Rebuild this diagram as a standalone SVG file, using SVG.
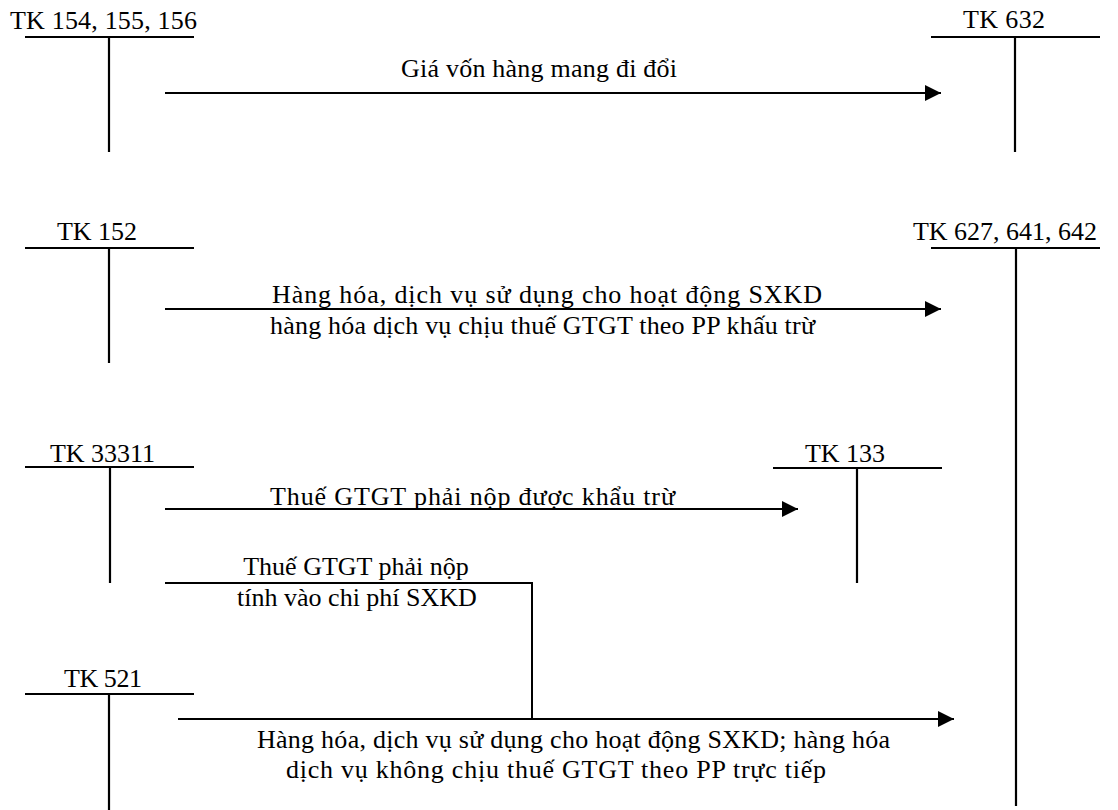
<svg xmlns="http://www.w3.org/2000/svg" width="1118" height="810" viewBox="0 0 1118 810">
<style>
text{font-family:'Liberation Serif','Times New Roman',serif;font-size:26px;fill:#000}
.c{text-anchor:middle}
.ln{stroke:#000;stroke-width:2;fill:none}
.acc{stroke:#000;stroke-width:2.2;fill:none}
</style>
<defs>
<marker id="ah" markerUnits="userSpaceOnUse" markerWidth="16" markerHeight="16" refX="16" refY="8" orient="auto">
<path d="M0,0 L16,8 L0,16 z" fill="#000"/>
</marker>
</defs>
<rect width="1118" height="810" fill="#fff"/>
<g id="tk154">
<text x="10" y="29" textLength="187">TK 154, 155, 156</text>
<path class="acc" d="M25,37 H194 M109,37 V152"/>
</g>
<g id="tk632">
<text x="963" y="28" textLength="82">TK 632</text>
<path class="acc" d="M931,37 H1100 M1015,37 V152"/>
</g>
<g id="tk152">
<text class="c" x="97" y="240">TK 152</text>
<path class="acc" d="M25,248 H194 M109,248 V363"/>
</g>
<g id="tk627">
<text class="c" x="1005" y="240">TK 627, 641, 642</text>
<path class="acc" d="M931,248 H1100 M1016,248 V806"/>
</g>
<g id="tk33311">
<text x="50" y="462" textLength="105">TK 33311</text>
<path class="acc" d="M25,467 H194 M110,467 V583"/>
</g>
<g id="tk133">
<text x="805" y="462" textLength="80">TK 133</text>
<path class="acc" d="M773,468 H942 M857,468 V583"/>
</g>
<g id="tk521">
<text x="64" y="687" textLength="78">TK 521</text>
<path class="acc" d="M25,694 H194 M109,694 V810"/>
</g>
<g id="connectors">
<path class="ln" d="M165,93 H941" marker-end="url(#ah)"/>
<path class="ln" d="M165,309 H941" marker-end="url(#ah)"/>
<path class="ln" d="M165,509 H798" marker-end="url(#ah)"/>
<path class="ln" d="M165,583 H532 V719"/>
<path class="ln" d="M178,719 H954" marker-end="url(#ah)"/>
</g>
<g id="labels">
<text x="401" y="77" textLength="276">Giá vốn hàng mang đi đổi</text>
<text x="272" y="303" textLength="550">Hàng hóa, dịch vụ sử dụng cho hoạt động SXKD</text>
<text x="270" y="334" textLength="545">hàng hóa dịch vụ chịu thuế GTGT theo PP khấu trừ</text>
<text x="270" y="505" textLength="405">Thuế GTGT phải nộp được khẩu trừ</text>
<text class="c" x="356" y="575">Thuế GTGT phải nộp</text>
<text class="c" x="357" y="606">tính vào chi phí SXKD</text>
<text x="257" y="748" textLength="633">Hàng hóa, dịch vụ sử dụng cho hoạt động SXKD; hàng hóa</text>
<text x="286" y="778" textLength="540">dịch vụ không chịu thuế GTGT theo PP trực tiếp</text>
</g>
</svg>
